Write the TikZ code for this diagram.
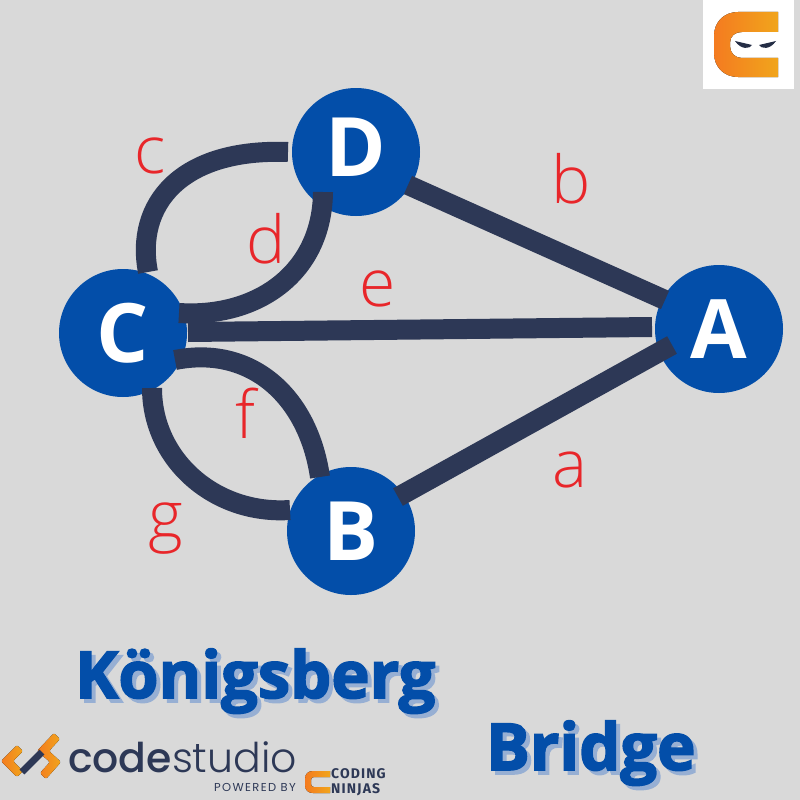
\documentclass[tikz,border=0pt]{standalone}
\usepackage{fontspec}
\usetikzlibrary{calc}
\setmainfont{Open Sans}
\newfontfamily\lightfont{Open Sans Light}
\newfontfamily\titlefont[FakeBold=2.5]{Open Sans Bold}
\newfontfamily\boldfont{Open Sans Bold}
\newfontfamily\popmed{Poppins Medium}
\newfontfamily\poplight{Poppins Light}
\newfontfamily\popspaced[LetterSpace=12]{Poppins}
\newfontfamily\codingfont[LetterSpace=8]{Fira Sans Bold}
\definecolor{bg}{HTML}{D9D9D9}
\definecolor{nodeblue}{HTML}{034EA9}
\definecolor{edgedark}{HTML}{2D3856}
\definecolor{labelred}{HTML}{E8262A}
\definecolor{shadowblue}{HTML}{97AFD3}
\definecolor{logoA}{HTML}{F47B20}
\definecolor{logoB}{HTML}{F1A51C}
\tikzset{
  x=1pt,y=-1pt,
  vertex/.style={circle,fill=nodeblue,inner sep=0pt,minimum size=128pt,text=white,font=\boldfont\fontsize{82}{82}\selectfont},
  edgeline/.style={draw=edgedark,line width=20pt},
  lab/.style={text=labelred,anchor=base,inner sep=0pt,font=\lightfont\fontsize{66}{66}\selectfont},
  titletext/.style={anchor=base west,inner sep=0pt,font=\titlefont\fontsize{65}{65}\selectfont},
  logofill/.style={left color=logoA,right color=logoB},
}
\begin{document}
\begin{tikzpicture}
\useasboundingbox (0,0) rectangle (800,800);
\fill[bg] (0,0) rectangle (800,800);
\node[vertex] (D) at (356,152) {\raisebox{10pt}{D}};
\node[vertex] (C) at (123,333) {C};
\node[vertex] (A) at (719,329) {A};
\node[vertex] (B) at (351,531) {B};
\coordinate (bD) at ($(D)+(52,33)$);
\coordinate (bA) at ($(A)+(-54,-29)$);
\coordinate (aB) at ($(B)+(47,-34)$);
\coordinate (aA) at ($(A)+(-47,16)$);
\coordinate (eC) at ($(C)+(65,-1)$);
\coordinate (eA) at ($(A)+(-67,-2)$);
\coordinate (cC) at ($(C)+(25,-61)$);
\coordinate (cD) at ($(D)+(-68,0)$);
\coordinate (dC) at ($(C)+(56,-20)$);
\coordinate (dD) at ($(D)+(-33,40)$);
\coordinate (fC) at ($(C)+(52,27)$);
\coordinate (fB) at ($(B)+(-31,-54)$);
\coordinate (gC) at ($(C)+(29,55)$);
\coordinate (gB) at ($(B)+(-61,-21)$);
\draw[edgeline] (bD) -- (bA);
\draw[edgeline] (aB) -- (aA);
\draw[edgeline] (eC) -- (eA);
\draw[edgeline] (cC) .. controls (135,205) and (180,148) .. (cD);
\draw[edgeline] (dC) .. controls (255,318) and (322,275) .. (dD);
\draw[edgeline] (fC) .. controls (250,345) and (308,395) .. (fB);
\draw[edgeline] (gC) .. controls (152,460) and (215,515) .. (gB);
\node[lab] (lc) at (150,173) {c};
\node[lab] (ld) at (266,263) {d};
\node[lab] (le) at (378,306) {e};
\node[lab] (lb) at (571,203) {b};
\node[lab] (la) at (570,487) {a};
\node[lab] (lf) at (245,438) {f};
\node[lab] (lg) at (166,538) {g};
\node[titletext,text=shadowblue] (t1s) at (79,702) {Königsberg};
\node[titletext,text=nodeblue] (t1) at (75,698) {Königsberg};
\node[titletext,text=shadowblue] (t2s) at (490,774) {Bridge};
\node[titletext,text=nodeblue] (t2) at (486,770) {Bridge};
\fill[white] (703,0) rectangle (794,89);
\fill[logofill] (778,12) -- (738,12) .. controls (724,12) and (714,22) .. (714,36) -- (714,53) .. controls (714,67) and (724,77) .. (738,77) -- (778,77) -- (778,58) -- (742,58) .. controls (735,58) and (730,53) .. (730,46) -- (730,43) .. controls (730,36) and (735,32) .. (742,32) -- (778,32) -- cycle;
\fill[edgedark!80!black] (735,41) -- (752,45) .. controls (750,49) and (741,50) .. cycle;
\fill[edgedark!80!black] (776,41) -- (759,45) .. controls (761,49) and (770,50) .. cycle;
\fill[logofill,rounded corners=2pt] (17,745) -- (1,761) -- (17,777) -- (23,771) -- (13,761) -- (23,751) -- cycle;
\fill[logofill,rounded corners=2pt] (54,733) -- (37,751) -- (50,762) -- (40,773) -- (46,779) -- (61,762) -- (49,751) -- (60,739) -- cycle;
\draw[edgedark,line width=7pt] (22,772) -- (42,752);
\node[anchor=base west,inner sep=0pt,text=edgedark] (cs) at (68,772) {\fontsize{41}{41}\selectfont{\popmed code}{\poplight studio}};
\node[anchor=base east,inner sep=0pt,text=edgedark] (pb) at (296,791) {\popspaced\fontsize{11.5}{11.5}\selectfont POWERED BY};
\fill[logofill] (330,771) -- (313,771) .. controls (308,771) and (305,774) .. (305,779) -- (305,785) .. controls (305,790) and (308,793) .. (313,793) -- (330,793) -- (330,787) -- (314,787) .. controls (312,787) and (311,786) .. (311,784) -- (311,780) .. controls (311,778) and (312,777) .. (314,777) -- (330,777) -- cycle;
\node[anchor=base west,inner sep=0pt,text=edgedark] (cn1) at (331,778) {\codingfont\fontsize{14}{14}\selectfont CODING};
\node[anchor=base west,inner sep=0pt,text=edgedark] (cn2) at (331,793) {\codingfont\fontsize{14}{14}\selectfont NINJAS};
\end{tikzpicture}
\end{document}
